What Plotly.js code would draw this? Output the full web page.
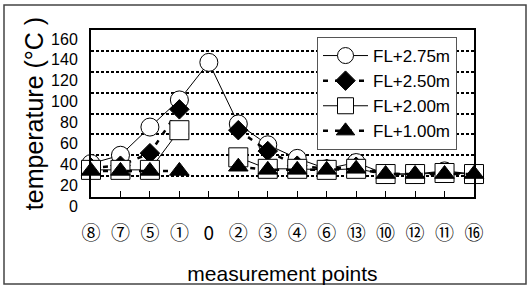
<!DOCTYPE html>
<html>
<head>
<meta charset="utf-8">
<script src="https://cdn.plot.ly/plotly-3.0.1.min.js"></script>
<style>
  html, body { margin: 0; padding: 0; background: #fff; }
  #chart { width: 529px; height: 286px; }
</style>
</head>
<body>
<div id="chart"></div>
<script>
// ---- data ----
var categories = ['⑧','⑦','⑤','①','0','②','③','④','⑥','⑬','⑩','⑫','⑪','⑯'];
var seriesNames = ['FL+2.75m','FL+2.50m','FL+2.00m','FL+1.00m'];
var fl275 = [32, 40, 67, 93, 129, 70, 50, 37, 27, 33, 22, 22, 25, 22];
var fl250 = [28, 30, 42, 84, null, 64, 44, 30, 27, 29, 22, 22, 23, 22];
var fl200 = [26, 26, 26, 64, null, 38, 27, 27, 26, 27, 22, 22, 23, 22];
var fl100 = [25, 25, 25, 25, null, 29, 26, 26, 26, 27, 22, 22, 22, 22];
var yTicks = [0, 20, 40, 60, 80, 100, 120, 140, 160];

var REG = '"Liberation Sans", Arial, sans-serif';

var xIdx = categories.map(function (c, i) { return i; });

var traces = [
  { y: fl275, name: seriesNames[0], symbol: 'circle', size: 18, fill: '#ffffff', dash: 'solid', lw: 1 },
  { y: fl250, name: seriesNames[1], symbol: 'diamond', size: 15, fill: '#000000', dash: '5px,7px', lw: 2.5 },
  { y: fl200, name: seriesNames[2], symbol: 'square', size: 19, fill: '#ffffff', dash: 'solid', lw: 1 },
  { y: fl100, name: seriesNames[3], symbol: 'triangle-up', size: 17, fill: '#000000', dash: '5px,7px', lw: 2.5 }
].map(function (s) {
  return {
    type: 'scatter', mode: 'lines+markers',
    x: xIdx, y: s.y, name: s.name,
    connectgaps: false, cliponaxis: false,
    line: { color: '#000', width: s.lw, dash: s.dash },
    marker: { symbol: s.symbol, size: s.size, color: s.fill, line: { color: '#000', width: 1 } }
  };
});

// plot-area geometry (pixels)
var W = 529, H = 286, L = 91, R = 55, T = 30, B = 89;
var pw = W - L - R, ph = H - T - B;
function px2paperX(p) { return (p - L) / pw; }
function px2paperY(p) { return (H - B - p) / ph; }

var layout = {
  width: W, height: H,
  margin: { l: L, r: R, t: T, b: B },
  paper_bgcolor: '#fff', plot_bgcolor: '#fff',
  showlegend: true,
  font: { family: REG, color: '#000' },
  xaxis: {
    type: 'linear',
    range: [0, categories.length - 1],
    tickmode: 'array', tickvals: xIdx, ticktext: categories,
    tickfont: { family: 'Noto Sans CJK JP', size: 19, color: '#000' },
    ticks: 'inside', ticklen: 6, tickwidth: 1, tickcolor: '#000',
    ticklabelstandoff: 18,
    showgrid: false, zeroline: false,
    showline: true, mirror: true, linecolor: '#000', linewidth: 2,
    title: { text: 'measurement points', font: { family: REG, size: 21, color: '#000' }, standoff: 23 }
  },
  yaxis: {
    range: [0, 160],
    tickmode: 'array', tickvals: yTicks,
    tickfont: { family: REG, size: 16, color: '#000' },
    ticks: '', ticklabelstandoff: 8, ticklabelshift: 9,
    showgrid: true, gridcolor: '#000', gridwidth: 2, griddash: '3px,2px',
    zeroline: false,
    showline: true, mirror: true, linecolor: '#000', linewidth: 2,
    title: { text: 'temperature (°C )', font: { family: REG, size: 25, color: '#000' }, standoff: 0 }
  },
  legend: {
    x: px2paperX(317), y: px2paperY(37), xanchor: 'left', yanchor: 'top',
    bgcolor: '#fff', bordercolor: '#555', borderwidth: 1,
    font: { family: REG, size: 17, color: '#000' },
    itemwidth: 45, tracegroupgap: 0
  },
  shapes: [{
    type: 'rect', xref: 'paper', yref: 'paper', layer: 'below',
    x0: px2paperX(4), x1: px2paperX(526), y0: px2paperY(284), y1: px2paperY(5),
    line: { color: '#444', width: 1.5 }, fillcolor: 'rgba(0,0,0,0)'
  }]
};

Plotly.newPlot('chart', traces, layout, { staticPlot: true, displayModeBar: false });
</script>
</body>
</html>
